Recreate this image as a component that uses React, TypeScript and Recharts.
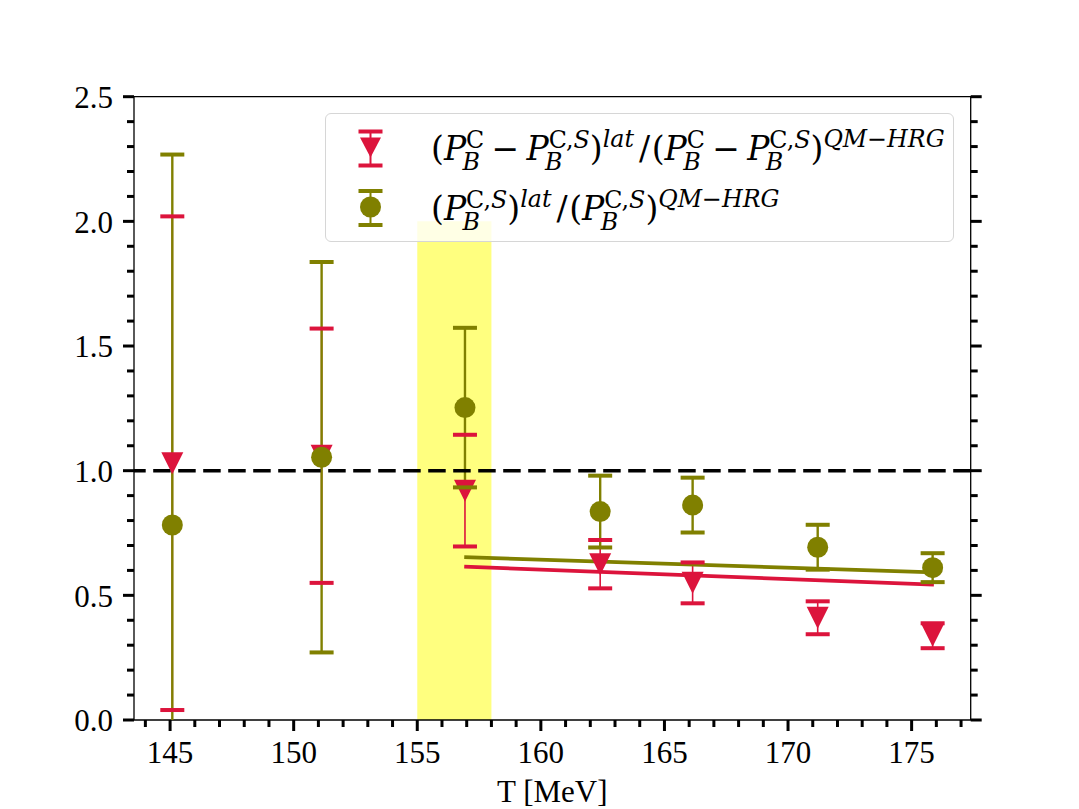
import React from "react";
import {
  ComposedChart,
  Scatter,
  Line,
  XAxis,
  YAxis,
  ErrorBar,
  ReferenceArea,
  ReferenceLine,
} from "recharts";

// lattice / QM-HRG ratios
const temps = [145.09, 151.13, 156.93, 162.4, 166.14, 171.2, 175.85];
const diffRatio = [1.03, 1.06, 0.92, 0.625, 0.55, 0.41, 0.338];
const diffErr = [0.99, 0.51, 0.224, 0.097, 0.082, 0.066, 0.05];
const csRatio = [0.782, 1.054, 1.253, 0.836, 0.862, 0.693, 0.611];
const csErr = [1.486, 0.783, 0.32, 0.144, 0.11, 0.09, 0.058];

// straight fit lines
const fitTemps = [156.9, 175.9];
const diffFit = [0.615, 0.543];
const csFit = [0.653, 0.592];

// Tpc band
const bandT = [155, 158];
const bandTop = 2.0;

const xMajorTicks = [145, 150, 155, 160, 165, 170, 175];
const yMajorTicks = [0, 0.5, 1, 1.5, 2, 2.5];

const X_DOMAIN: [number, number] = [143.54, 177.39];
const Y_DOMAIN: [number, number] = [0, 2.5];

const RED = "#dc143c";
const OLIVE = "#808000";
const FONT = "'Liberation Serif', 'Times New Roman', serif";
const MATH_FONT = "'DejaVu Serif', serif";

const xTicks: number[] = [];
for (let t = 144; t <= 177; t++) xTicks.push(t);
const yTicks: number[] = [];
for (let i = 0; i <= 25; i++) yTicks.push(i / 10);

const isMajor = (v: number, majors: number[]) => majors.some((m) => Math.abs(m - v) < 1e-6);

// clip lower error to the visible range (matplotlib clips it at the axes)
const rows = (vals: number[], errs: number[]) =>
  temps.map((t, i) => ({ t, v: vals[i], err: [Math.min(errs[i], vals[i] - Y_DOMAIN[0]), errs[i]] }));
const caps = (vals: number[], errs: number[]) =>
  temps
    .flatMap((t, i) => [
      { t, v: vals[i] + errs[i] },
      { t, v: vals[i] - errs[i] },
    ])
    .filter((c) => c.v >= Y_DOMAIN[0]);

const diffRows = rows(diffRatio, diffErr);
const csRows = rows(csRatio, csErr);
const diffCaps = caps(diffRatio, diffErr);
const csCaps = caps(csRatio, csErr);
const diffFitRows = fitTemps.map((t, i) => ({ t, v: diffFit[i] }));
const csFitRows = fitTemps.map((t, i) => ({ t, v: csFit[i] }));

const triangle = (color: string) => (p: any) => (
  <polygon
    points={`${p.cx - 11},${p.cy - 11} ${p.cx + 11},${p.cy - 11} ${p.cx},${p.cy + 11}`}
    fill={color}
  />
);
const circle = (color: string) => (p: any) => <circle cx={p.cx} cy={p.cy} r={10.5} fill={color} />;
const cap = (color: string) => (p: any) => (
  <rect x={p.cx - 12} y={p.cy - 2} width={24} height={4} fill={color} />
);

function LeftTick(props: any) {
  const { x, y, payload } = props;
  const major = isMajor(payload.value, yMajorTicks);
  return (
    <g>
      <line x1={x} x2={x - (major ? 11 : 7)} y1={y} y2={y} stroke="#000" strokeWidth={3} />
      {major && (
        <text x={x - 21} y={y} dy="0.36em" textAnchor="end" fontFamily={FONT} fontSize={31} fill="#000">
          {payload.value.toFixed(1)}
        </text>
      )}
    </g>
  );
}

function RightTick(props: any) {
  const { x, y, payload } = props;
  const major = isMajor(payload.value, yMajorTicks);
  return <line x1={x} x2={x + (major ? 11 : 7)} y1={y} y2={y} stroke="#000" strokeWidth={3} />;
}

function BottomTick(props: any) {
  const { x, y, payload } = props;
  const major = isMajor(payload.value, xMajorTicks);
  return (
    <g>
      <line x1={x} x2={x} y1={y} y2={y + (major ? 11 : 7)} stroke="#000" strokeWidth={3} />
      {major && (
        <text x={x} y={y + 43} textAnchor="middle" fontFamily={FONT} fontSize={31} fill="#000">
          {payload.value}
        </text>
      )}
    </g>
  );
}

const it = { fontStyle: "italic" } as const;
const stack: React.CSSProperties = {
  display: "inline-flex",
  flexDirection: "column",
  fontSize: "0.72em",
  lineHeight: 0.9,
  verticalAlign: "0.5em",
};
const sup: React.CSSProperties = { fontSize: "0.72em", verticalAlign: "0.55em", lineHeight: 1 };
const minus = <span style={{ margin: "0 0.22em" }}>−</span>;

function PB({ s }: { s: React.ReactNode }) {
  return (
    <>
      <span style={it}>P</span>
      <span style={stack}>
        <span>{s}</span>
        <span style={{ ...it, marginLeft: "-0.15em" }}>B</span>
      </span>
    </>
  );
}
const CS = (
  <>
    C,<span style={it}>S</span>
  </>
);

function Formula({ top, children }: { top: number; children: React.ReactNode }) {
  return (
    <div
      style={{
        position: "absolute",
        left: 105,
        top,
        fontFamily: MATH_FONT,
        fontSize: 33,
        lineHeight: 1,
        whiteSpace: "nowrap",
        color: "#000",
      }}
    >
      {children}
    </div>
  );
}

function LegendBox() {
  return (
    <div
      style={{
        position: "absolute",
        left: 325,
        top: 113,
        width: 629,
        height: 129,
        boxSizing: "border-box",
        border: "1.5px solid #d6d6d6",
        borderRadius: 6,
        background: "rgba(255,255,255,0.8)",
      }}
    >
      <svg width={626} height={126} style={{ position: "absolute", left: 0, top: 0 }}>
        <g transform="translate(44.5,33.5)">
          <line x1={0} x2={0} y1={-16} y2={18} stroke={RED} strokeWidth={2} />
          <rect x={-12} y={-18} width={24} height={4} fill={RED} />
          <rect x={-12} y={16} width={24} height={4} fill={RED} />
          <polygon points="-10.5,-10 10.5,-10 0,10" fill={RED} />
        </g>
        <g transform="translate(44.5,93)">
          <line x1={0} x2={0} y1={-16} y2={18} stroke={OLIVE} strokeWidth={2} />
          <rect x={-12} y={-18} width={24} height={4} fill={OLIVE} />
          <rect x={-12} y={16} width={24} height={4} fill={OLIVE} />
          <circle cx={0} cy={0} r={10.5} fill={OLIVE} />
        </g>
      </svg>
      <Formula top={14}>
        (<PB s="C" />
        {minus}
        <PB s={CS} />)<span style={{ ...sup, ...it }}>lat</span>
        <span style={{ margin: "0 0.05em 0 0.15em" }}>/</span>(<PB s="C" />
        {minus}
        <PB s={CS} />)
        <span style={sup}>
          <span style={it}>QM</span>−<span style={it}>HRG</span>
        </span>
      </Formula>
      <Formula top={74}>
        (<PB s={CS} />)<span style={{ ...sup, ...it }}>lat</span>
        <span style={{ margin: "0 0.05em 0 0.15em" }}>/</span>(<PB s={CS} />)
        <span style={sup}>
          <span style={it}>QM</span>−<span style={it}>HRG</span>
        </span>
      </Formula>
    </div>
  );
}

export default function App() {
  return (
    <div style={{ position: "relative", width: 1079, height: 809, background: "#fff" }}>
      <style>{"body{margin:0}"}</style>
      <ComposedChart width={1079} height={809} margin={{ top: 96.7, right: 0, bottom: 0, left: 0 }}>
        <XAxis
          type="number"
          dataKey="t"
          domain={X_DOMAIN}
          ticks={xTicks}
          interval={0}
          allowDataOverflow
          height={89}
          tickSize={0}
          tickMargin={0}
          axisLine={false}
          tickLine={false}
          tick={(p: any) => <BottomTick {...p} />}
          label={(p: any) => {
            const vb = p.viewBox;
            return (
              <text x={vb.x + vb.width / 2} y={vb.y + 82} textAnchor="middle" fontFamily={FONT} fontSize={31} fill="#000">
                T [MeV]
              </text>
            );
          }}
        />
        <YAxis
          yAxisId="l"
          type="number"
          dataKey="v"
          domain={Y_DOMAIN}
          ticks={yTicks}
          interval={0}
          allowDataOverflow
          width={134}
          tickSize={0}
          tickMargin={0}
          axisLine={false}
          tickLine={false}
          tick={(p: any) => <LeftTick {...p} />}
        />
        <YAxis
          yAxisId="r"
          orientation="right"
          type="number"
          domain={Y_DOMAIN}
          ticks={yTicks}
          interval={0}
          allowDataOverflow
          width={108.3}
          tickSize={0}
          tickMargin={0}
          axisLine={false}
          tickLine={false}
          tick={(p: any) => <RightTick {...p} />}
        />

        <ReferenceArea
          yAxisId="l"
          x1={bandT[0]}
          x2={bandT[1]}
          y1={0}
          y2={bandTop}
          fill="#ffff00"
          fillOpacity={0.5}
          stroke="none"
        />

        <Scatter yAxisId="l" data={diffRows} fill={RED} shape={triangle(RED)} isAnimationActive={false}>
          <ErrorBar dataKey="err" direction="y" width={0} stroke={RED} strokeWidth={1.6} />
        </Scatter>
        <Scatter yAxisId="l" data={diffCaps} fill={RED} shape={cap(RED)} isAnimationActive={false} />
        <Scatter yAxisId="l" data={csRows} fill={OLIVE} shape={circle(OLIVE)} isAnimationActive={false}>
          <ErrorBar dataKey="err" direction="y" width={0} stroke={OLIVE} strokeWidth={2.4} />
        </Scatter>
        <Scatter yAxisId="l" data={csCaps} fill={OLIVE} shape={cap(OLIVE)} isAnimationActive={false} />

        <ReferenceLine yAxisId="r" y={1} stroke="#000" strokeWidth={3.5} strokeDasharray="17.5 7.5" />

        <Line
          yAxisId="l"
          data={diffFitRows}
          dataKey="v"
          type="linear"
          stroke={RED}
          strokeWidth={3.8}
          dot={false}
          activeDot={false}
          isAnimationActive={false}
        />
        <Line
          yAxisId="l"
          data={csFitRows}
          dataKey="v"
          type="linear"
          stroke={OLIVE}
          strokeWidth={3.8}
          dot={false}
          activeDot={false}
          isAnimationActive={false}
        />

        <ReferenceArea
          yAxisId="l"
          x1={X_DOMAIN[0]}
          x2={X_DOMAIN[1]}
          y1={Y_DOMAIN[0]}
          y2={Y_DOMAIN[1]}
          fill="none"
          stroke="#000"
          strokeWidth={1.3}
          ifOverflow="visible"
        />
      </ComposedChart>
      <LegendBox />
    </div>
  );
}
